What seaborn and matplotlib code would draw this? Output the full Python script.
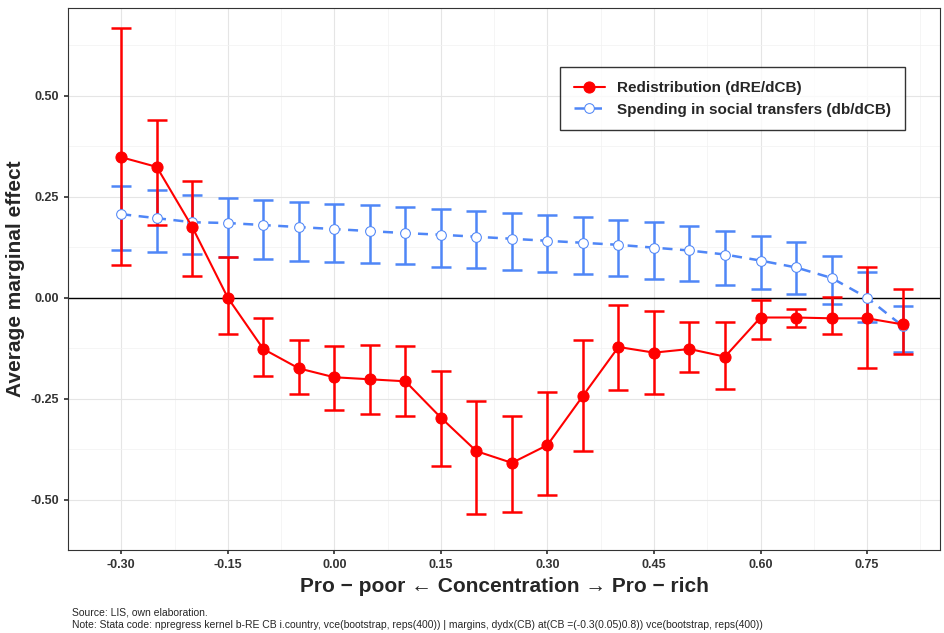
import numpy as np
import pandas as pd
import matplotlib
matplotlib.use("Agg")
import matplotlib.pyplot as plt
import seaborn as sns

# Valores de concentración (CB)
cb = [-0.30, -0.25, -0.20, -0.15, -0.10, -0.05, 0.00, 0.05, 0.10, 0.15, 0.20, 0.25,
      0.30, 0.35, 0.40, 0.45, 0.50, 0.55, 0.60, 0.65, 0.70, 0.75, 0.80]

# Redistribución (dRE/dCB)
re_mean = [0.348, 0.324, 0.175, 0.0, -0.127, -0.175, -0.197, -0.202, -0.207, -0.297, -0.380, -0.409,
           -0.365, -0.243, -0.122, -0.136, -0.127, -0.146, -0.049, -0.049, -0.051, -0.051, -0.066]
re_hi = [0.667, 0.44, 0.29, 0.10, -0.049, -0.105, -0.12, -0.117, -0.12, -0.182, -0.255, -0.292,
         -0.233, -0.105, -0.019, -0.032, -0.061, -0.061, -0.005, -0.029, 0.002, 0.075, 0.022]
re_lo = [0.08, 0.18, 0.053, -0.09, -0.195, -0.238, -0.277, -0.287, -0.294, -0.416, -0.535, -0.53,
         -0.489, -0.38, -0.229, -0.238, -0.185, -0.226, -0.102, -0.073, -0.09, -0.173, -0.139]

# Gasto en transferencias sociales (db/dCB)
b_mean = [0.207, 0.197, 0.187, 0.185, 0.18, 0.175, 0.17, 0.165, 0.16, 0.156, 0.151, 0.146,
          0.141, 0.136, 0.131, 0.124, 0.117, 0.107, 0.092, 0.075, 0.049, 0.0, -0.07]
b_hi = [0.277, 0.268, 0.255, 0.248, 0.241, 0.236, 0.231, 0.229, 0.224, 0.219, 0.214, 0.209,
        0.204, 0.2, 0.192, 0.187, 0.178, 0.165, 0.153, 0.139, 0.104, 0.063, -0.02]
b_lo = [0.119, 0.114, 0.109, 0.102, 0.097, 0.092, 0.088, 0.085, 0.083, 0.075, 0.073, 0.068,
        0.063, 0.058, 0.054, 0.046, 0.041, 0.032, 0.022, 0.01, -0.015, -0.061, -0.134]

RED = "#ff0000"
BLUE = "#4f86f7"

sns.set_theme(style="whitegrid")
plt.rcParams['font.family'] = ['Liberation Sans', 'DejaVu Sans']

fig = plt.figure(figsize=(9.44, 6.33), dpi=100)
ax = fig.add_axes([0.072, 0.131, 0.924, 0.856])

df = pd.DataFrame({"cb": cb, "re": re_mean, "b": b_mean})

ax.axhline(0, color="black", lw=1, zorder=1)

# Barras de error
ax.errorbar(cb, b_mean, yerr=[np.array(b_mean) - np.array(b_lo), np.array(b_hi) - np.array(b_mean)],
            fmt="none", ecolor=BLUE, elinewidth=1.8, capsize=7, capthick=1.8, zorder=2)
ax.errorbar(cb, re_mean, yerr=[np.array(re_mean) - np.array(re_lo), np.array(re_hi) - np.array(re_mean)],
            fmt="none", ecolor=RED, elinewidth=1.8, capsize=7, capthick=1.8, zorder=3)

sns.lineplot(data=df, x="cb", y="b", ax=ax, color=BLUE, lw=1.8, linestyle=(0, (4, 3)),
             marker="o", markersize=7, markerfacecolor="white", markeredgecolor=BLUE,
             label="Spending in social transfers (db/dCB)", zorder=4)
sns.lineplot(data=df, x="cb", y="re", ax=ax, color=RED, lw=1.5, marker="o", markersize=8,
             markeredgecolor=RED, label="Redistribution (dRE/dCB)", zorder=5)

handles, labels = ax.get_legend_handles_labels()
leg = ax.legend(handles[::-1], labels[::-1], loc="upper right", bbox_to_anchor=(0.968, 0.905),
                frameon=True, fancybox=False, edgecolor="black", borderpad=0.9,
                prop={"weight": "bold", "size": 11})
leg.get_frame().set_linewidth(1)

ax.set_xlim(-0.371, 0.853)
ax.set_ylim(-0.592, 0.717)
ax.set_xticks([-0.30, -0.15, 0.00, 0.15, 0.30, 0.45, 0.60, 0.75])
ax.set_xticklabels([f"{v:.2f}" for v in [-0.30, -0.15, 0.00, 0.15, 0.30, 0.45, 0.60, 0.75]])
ax.set_yticks([-0.50, -0.25, 0.00, 0.25, 0.50])
ax.set_yticklabels([f"{v:.2f}" for v in [-0.50, -0.25, 0.00, 0.25, 0.50]])
ax.set_xticks(np.arange(-0.375, 0.85, 0.075), minor=True)
ax.set_yticks(np.arange(-0.625, 0.75, 0.125), minor=True)
ax.grid(which="major", color="#e5e5e5", lw=0.8)
ax.grid(which="minor", color="#f2f2f2", lw=0.5)
ax.tick_params(axis="both", labelsize=9, colors="#333333", length=3, bottom=True, left=True)
for t in ax.get_xticklabels() + ax.get_yticklabels():
    t.set_fontweight("bold")
for s in ax.spines.values():
    s.set_color("#333333")
    s.set_linewidth(0.8)

ax.set_xlabel("Pro − poor ← Concentration → Pro − rich", fontsize=15, fontweight="bold", labelpad=4)
ax.set_ylabel("Average marginal effect", fontsize=15, fontweight="bold", labelpad=4)

fig.text(0.076, 0.028, "Source: LIS, own elaboration.", fontsize=7.5)
fig.text(0.076, 0.008, "Note: Stata code: npregress kernel b-RE CB i.country, vce(bootstrap, reps(400)) | "
         "margins, dydx(CB) at(CB =(-0.3(0.05)0.8)) vce(bootstrap, reps(400))", fontsize=7.5)

fig.savefig("out.png", dpi=100)
